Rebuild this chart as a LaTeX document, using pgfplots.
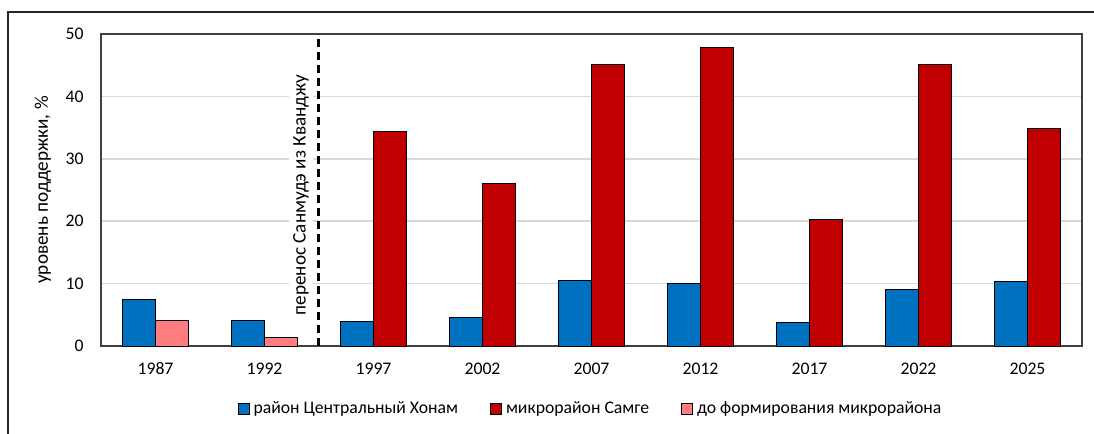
\documentclass[border=0pt]{standalone}
\usepackage{pgfplots}
\pgfplotsset{compat=1.18}
\usepackage{fontspec}
\setmainfont{Carlito}

\definecolor{cblue}{HTML}{0070C0}
\definecolor{cred}{HTML}{C00000}
\definecolor{cpink}{HTML}{FF7C80}

\pgfplotstableread{
x y
0 7.5
1 4.1
2 3.9
3 4.6
4 10.5
5 10.0
6 3.7
7 9.0
8 10.3
}\central
\pgfplotstableread{
x y
2 34.4
3 26.1
4 45.1
5 47.8
6 20.3
7 45.1
8 34.9
}\samge
\pgfplotstableread{
x y
0 4.1
1 1.4
}\before

\newcommand{\fs}{\fontsize{8.85}{10.5}\selectfont}
\newcommand{\fsl}{\fontsize{9.6}{11}\selectfont}

\begin{document}
\begin{tikzpicture}
\begin{axis}[
  at={(0,0)}, anchor=south west,
  scale only axis,
  width=490.5pt, height=156pt,
  xmin=-0.5, xmax=8.5, ymin=0, ymax=50,
  ybar, bar width=0.3,
  xtick={0,...,8},
  xticklabels={1987,1992,1997,2002,2007,2012,2017,2022,2025},
  ytick={0,10,...,50},
  ymajorgrids, grid style={draw=black!15, line width=0.8pt},
  major tick length=0pt,
  axis line style={draw=black!75, line width=0.6pt},
  tick label style={font=\fs},
  /pgf/number format/assume math mode=true,
  xticklabel style={anchor=base, inner sep=0pt, yshift=-14.3pt},
  yticklabel style={anchor=east, inner sep=0pt, xshift=-8.5pt},
  legend columns=3,
  legend style={draw=none, font=\fs, at={(axis description cs:0.5,0)}, anchor=center, yshift=-31.5pt,
    /tikz/every even column/.append style={column sep=14pt}},
  legend image code/.code={\draw[#1] (0pt,-2.75pt) rectangle (5.5pt,2.75pt);},
]
\addplot[fill=cblue, draw=black, line width=0.5pt, bar shift=-0.15] table {\central};
\addlegendentry{район Центральный Хонам}
\addplot[fill=cred, draw=black, line width=0.5pt, bar shift=0.15] table {\samge};
\addlegendentry{микрорайон Самге}
\addplot[fill=cpink, draw=black, line width=0.5pt, bar shift=0.15] table {\before};
\addlegendentry{до формирования микрорайона}

\node[rotate=90, anchor=center, fill=white, inner sep=2pt, font=\fsl] at ([xshift=-9pt]axis cs:1.5,24.2) {перенос Санмудэ из Кванджу};
\draw[black, line width=1.5pt, dash pattern=on 4pt off 2.5pt] (axis cs:1.5,0) -- (axis cs:1.5,50);
\end{axis}
\node[rotate=90, anchor=center, font=\fsl] at (-29pt,78pt) {уровень поддержки, \%};
\draw[line width=1.1pt, black!85] (-46.5pt,-45pt) -- (-46.5pt,167pt) -- (497pt,167pt);
\pgfresetboundingbox
\path[use as bounding box] (-50.5pt,-44pt) rectangle (496.5pt,173pt);
\end{tikzpicture}
\end{document}
